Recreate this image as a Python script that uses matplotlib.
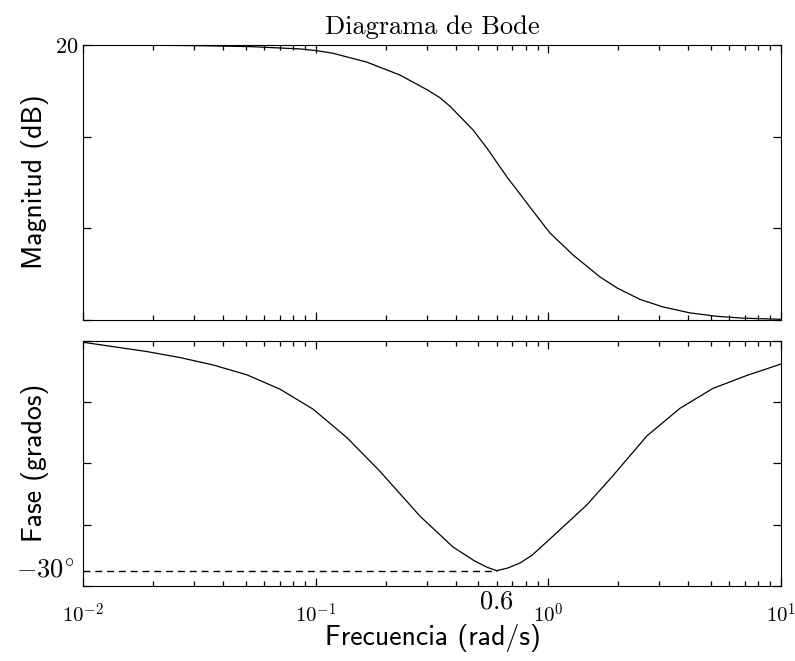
import numpy as np
import matplotlib
matplotlib.use('Agg')
import matplotlib.pyplot as plt
from matplotlib.ticker import FixedLocator, NullFormatter
import matplotlib.transforms as mtransforms

plt.rcParams['mathtext.fontset'] = 'cm'

freq_mag = [0.01, 0.02, 0.0318, 0.0523, 0.0856, 0.10, 0.1186, 0.1662, 0.2303,
            0.3009, 0.342, 0.3777, 0.4742, 0.5447, 0.6642, 0.8091, 0.920, 1.016,
            1.276, 1.667, 1.972, 2.475, 3.108, 4.06, 5.30, 6.86, 10.0]
mag_db = [20.00, 19.99, 19.97, 19.93, 19.83, 19.76, 19.64, 19.25, 18.69,
          18.05, 17.70, 17.33, 16.30, 15.50, 14.24, 13.10, 12.36, 11.80,
          10.84, 9.88, 9.40, 8.90, 8.57, 8.31, 8.16, 8.08, 8.03]

# fase (grados)
freq_fase = [0.01, 0.01346, 0.01884, 0.02611, 0.0362, 0.05069, 0.07025, 0.0974,
             0.1363, 0.1889, 0.2807, 0.389, 0.48, 0.5447, 0.6, 0.67, 0.7551, 0.85,
             1.047, 1.465, 1.895, 2.653, 3.678, 5.097, 7.137, 9.60, 10.0]
fase = [-0.17, -0.74, -1.39, -2.17, -3.13, -4.43, -6.3, -8.9,
        -12.63, -17.02, -22.88, -26.9, -28.7, -29.55, -30.0, -29.65, -29.0, -28.0,
        -25.5, -21.4, -17.6, -12.4, -8.8, -6.2, -4.5, -3.2, -3.0]

w_min = 0.6
fase_min = -30

xticks = [0.01, 0.1, 1, 10]
xticklabels = [r'$10^{-2}$', r'$10^{-1}$', r'$10^{0}$', r'$10^{1}$']
xminor = [k * 10.0 ** e for e in (-2, -1, 0) for k in range(2, 10)]

fig = plt.figure(figsize=(7.95, 6.61), dpi=100)
ax1 = fig.add_axes([0.1044, 0.5159, 0.878, 0.416])
ax2 = fig.add_axes([0.1044, 0.1135, 0.878, 0.3707])

def estilo(ax):
    ax.set_xscale('log')
    ax.set_xlim(0.01, 10)
    for s in ax.spines.values():
        s.set_linewidth(0.8)

estilo(ax1)
ax1.plot(freq_mag, mag_db, color='black', lw=0.9, solid_joinstyle='round')
ax1.set_ylim(8, 20)
ax1.set_yticks([8, 12, 16, 20])
ax1.set_yticklabels(['', '', '', r'$20$'], fontsize=16)
ax1.set_title('Diagrama de Bode', family='cmr10', fontsize=19, pad=8)

estilo(ax2)
ax2.plot(freq_fase, fase, color='black', lw=0.9, solid_joinstyle='round')
ax2.plot([0.01, w_min], [fase_min, fase_min], color='black', lw=1.0, ls=(0, (5, 3.5)))
ax2.set_ylim(-32, 0)
ax2.set_yticks([-32, -24, -16, -8, 0])
ax2.set_yticklabels([])

for ax in (ax1, ax2):
    ax.xaxis.set_major_locator(FixedLocator(xticks))
    ax.xaxis.set_minor_locator(FixedLocator(xminor))
    ax.xaxis.set_minor_formatter(NullFormatter())
    ax.tick_params(axis='both', which='both', direction='in', top=True, right=True,
                   bottom=True, left=True, width=0.9, color='black')
    ax.tick_params(axis='both', which='major', length=6)
    ax.tick_params(axis='x', which='minor', length=3.5)

ax1.set_xticklabels([])
ax2.set_xticklabels(xticklabels, fontsize=15)
ax2.tick_params(axis='x', which='major', pad=12)

trans = mtransforms.blended_transform_factory(ax2.transAxes, ax2.transData)
ax2.text(-0.012, fase_min, r'$-30^{\circ}$', transform=trans, ha='right', va='center', fontsize=19)
ax2.text(w_min, -32.3, r'$0.6$', ha='center', va='top', fontsize=19)

fig.text(0.044, 0.725, 'Magnitud (dB)', family='cmss10', fontsize=20, rotation=90, ha='center', va='center')
fig.text(0.044, 0.30, 'Fase (grados)', family='cmss10', fontsize=20, rotation=90, ha='center', va='center')
fig.text(0.545, 0.035, 'Frecuencia (rad/s)', family='cmss10', fontsize=20, ha='center', va='center')

fig.savefig('out.png', dpi=100)
